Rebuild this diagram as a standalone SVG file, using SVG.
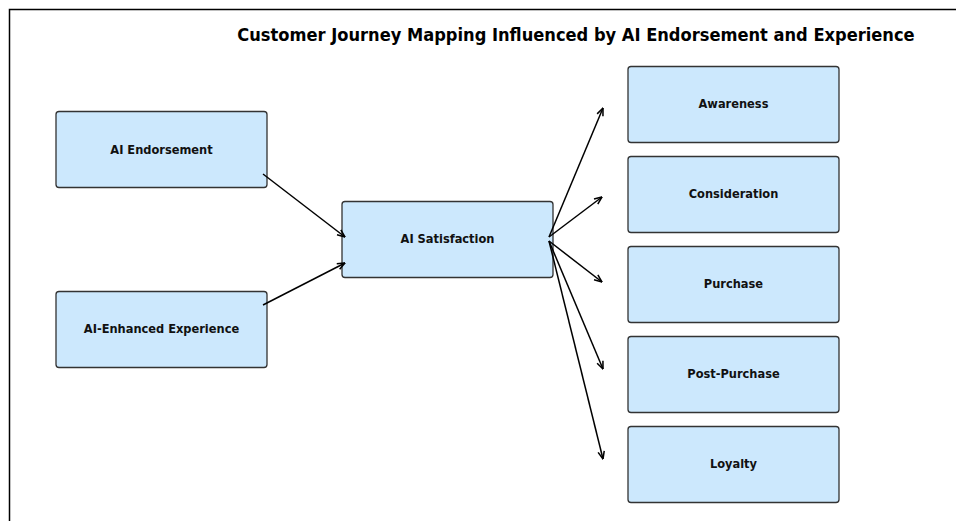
<svg xmlns="http://www.w3.org/2000/svg" width="956" height="521" viewBox="0 0 956 521">
<defs>
<style>
.node rect{fill:#cce8fd;stroke:#333333;stroke-width:1.3}
.node text{font-family:"DejaVu Sans",sans-serif;font-weight:bold;font-stretch:condensed;font-size:12.7px;fill:#111;text-anchor:middle}
.title{font-family:"DejaVu Sans",sans-serif;font-weight:bold;font-stretch:condensed;font-size:18.1px;fill:#000;text-anchor:middle}
#connectors line{stroke:#000;stroke-width:1.5;marker-end:url(#ah)}
</style>
<marker id="ah" viewBox="0 0 10 10" refX="9.5" refY="5" markerWidth="9" markerHeight="9" markerUnits="userSpaceOnUse" orient="auto">
<path d="M1,1.5 L9.5,5 L1,8.5" fill="none" stroke="#000" stroke-width="1.7"/>
</marker>
</defs>
<rect width="956" height="521" fill="#fff"/>
<path d="M9.5,521 L9.5,9.5 L956,9.5" fill="none" stroke="#000" stroke-width="1.5"/>
<text class="title" x="576" y="41">Customer Journey Mapping Influenced by AI Endorsement and Experience</text>
<g id="node-ai-endorsement" class="node"><rect x="56" y="111.5" width="211" height="76" rx="3"/><text x="161.5" y="153.5">AI Endorsement</text></g>
<g id="node-ai-enhanced" class="node"><rect x="56" y="291.5" width="211" height="76" rx="3"/><text x="161.5" y="333">AI-Enhanced Experience</text></g>
<g id="node-ai-satisfaction" class="node"><rect x="342" y="201.5" width="211" height="76" rx="3"/><text x="447.5" y="243">AI Satisfaction</text></g>
<g id="node-awareness" class="node"><rect x="628" y="66.5" width="211" height="76" rx="3"/><text x="733.5" y="108">Awareness</text></g>
<g id="node-consideration" class="node"><rect x="628" y="156.5" width="211" height="76" rx="3"/><text x="733.5" y="198">Consideration</text></g>
<g id="node-purchase" class="node"><rect x="628" y="246.5" width="211" height="76" rx="3"/><text x="733.5" y="288">Purchase</text></g>
<g id="node-post-purchase" class="node"><rect x="628" y="336.5" width="211" height="76" rx="3"/><text x="733.5" y="378">Post-Purchase</text></g>
<g id="node-loyalty" class="node"><rect x="628" y="426.5" width="211" height="76" rx="3"/><text x="733.5" y="468">Loyalty</text></g>
<g id="connectors">
<line x1="263" y1="174" x2="345" y2="237"/>
<line x1="263" y1="305" x2="345" y2="263"/>
<line x1="549" y1="237" x2="603" y2="108"/>
<line x1="549" y1="237" x2="602" y2="197"/>
<line x1="549" y1="241" x2="602" y2="282"/>
<line x1="549" y1="241" x2="603" y2="369"/>
<line x1="549" y1="241" x2="603" y2="459"/>
</g>
</svg>
